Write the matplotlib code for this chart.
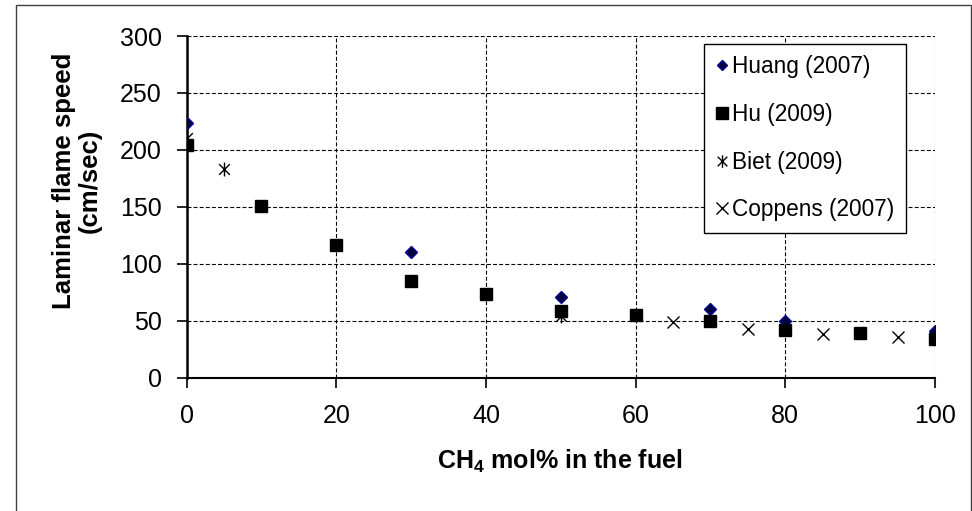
import matplotlib
matplotlib.use("Agg")
import matplotlib.pyplot as plt
from matplotlib.path import Path
from matplotlib.patches import Rectangle

plt.rcParams['font.family'] = ['Liberation Sans', 'DejaVu Sans']
plt.rcParams['mathtext.fontset'] = 'custom'
plt.rcParams['mathtext.rm'] = 'Liberation Sans'
plt.rcParams['mathtext.bf'] = 'Liberation Sans:bold'

# ---- data ----
huang_x = [0, 30, 50, 70, 80, 100]
huang_y = [224, 110, 71, 60, 50, 41]

hu_x = [0, 10, 20, 30, 40, 50, 60, 70, 80, 90, 100]
hu_y = [204, 151, 116, 85, 73, 58, 55, 50, 42, 39, 34]

biet_x = [0, 5, 50]
biet_y = [210, 183, 54]

coppens_x = [65, 75, 85, 95]
coppens_y = [49, 43, 38, 36]

xticks = [0, 20, 40, 60, 80, 100]
yticks = [0, 50, 100, 150, 200, 250, 300]

W, H = 972, 511
fig = plt.figure(figsize=(W / 100, H / 100), dpi=100)

# chart area border
fig.patches.append(Rectangle((16 / W, -0.05), (970.5 - 16) / W, 1.05 - 5 / H,
                             transform=fig.transFigure, fill=False,
                             edgecolor='#404040', linewidth=1.0))

ax = fig.add_axes([186.5 / W, 1 - 377.5 / H, (935 - 186.5) / W, (377.5 - 36) / H])

# star marker (x with vertical bar)
star = Path([(-1, -1), (1, 1), (-1, 1), (1, -1), (0, -1.3), (0, 1.3)],
            [Path.MOVETO, Path.LINETO, Path.MOVETO, Path.LINETO, Path.MOVETO, Path.LINETO])

ax.plot(biet_x, biet_y, linestyle='none', marker=star, markersize=10,
        markeredgecolor='black', markeredgewidth=1.0, color='black',
        label='Biet (2009)', zorder=3)
ax.plot(coppens_x, coppens_y, linestyle='none', marker='x', markersize=9,
        markeredgecolor='black', markeredgewidth=1.0, color='black',
        label='Coppens (2007)', zorder=3)
ax.plot(huang_x, huang_y, linestyle='none', marker='D', markersize=6.2,
        markerfacecolor='#000040', markeredgecolor='#000090', markeredgewidth=1.0,
        label='Huang (2007)', zorder=4)
ax.plot(hu_x, hu_y, linestyle='none', marker='s', markersize=9,
        markerfacecolor='black', markeredgecolor='black',
        label='Hu (2009)', zorder=5)

ax.set_xlim(0, 100)
ax.set_ylim(0, 300)
ax.set_xticks(xticks)
ax.set_yticks(yticks)
ax.tick_params(axis='both', direction='out', length=7, width=1.2, labelsize=18,
               colors='black')
ax.tick_params(axis='y', pad=11)
ax.tick_params(axis='x', pad=12)

for s in ['top', 'right']:
    ax.spines[s].set_visible(False)
ax.spines['left'].set_linewidth(1.8)
ax.spines['bottom'].set_linewidth(1.5)

ax.grid(True, color='black', linestyle=(0, (3.5, 2)), linewidth=0.8)
ax.set_axisbelow(True)

fig.text(77 / W, 1 - 181 / H, 'Laminar flame speed\n(cm/sec)', rotation=90,
         ha='center', va='center', multialignment='center',
         fontsize=18.5, fontweight='bold', linespacing=1.12)
fig.text(560 / W, 1 - 461 / H, r'CH$_\mathbf{4}$ mol% in the fuel',
         ha='center', va='center', fontsize=18, fontweight='bold')

handles, labels = ax.get_legend_handles_labels()
order = ['Huang (2007)', 'Hu (2009)', 'Biet (2009)', 'Coppens (2007)']
hmap = dict(zip(labels, handles))
leg = fig.legend([hmap[o] for o in order], order, loc='upper left',
                 bbox_to_anchor=(704 / W, 1 - 44 / H), bbox_transform=fig.transFigure,
                 borderaxespad=0, fontsize=16.3, frameon=True, fancybox=False,
                 edgecolor='black', framealpha=1, handlelength=0.55,
                 handletextpad=0.2, labelspacing=1.09, borderpad=0.5,
                 markerscale=0.9)
leg.get_frame().set_linewidth(1.0)

fig.savefig('out.png', dpi=100)
